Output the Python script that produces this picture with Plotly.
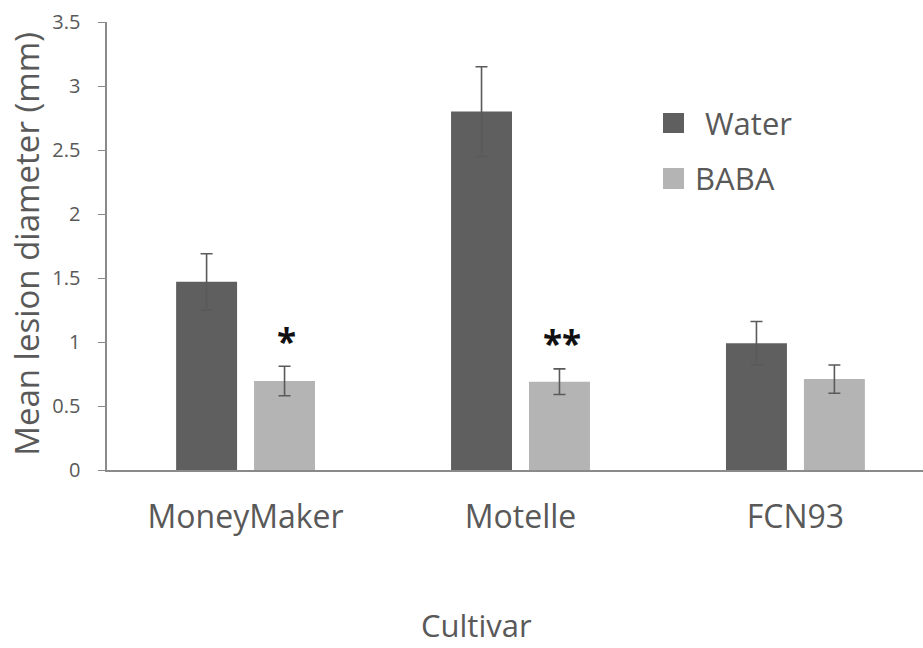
import plotly.graph_objects as go

# Lesion diameter per cultivar, water control vs BABA treatment
cultivars = ["MoneyMaker", "Motelle", "FCN93"]
water_mean = [1.47, 2.80, 0.99]
water_err = [0.22, 0.35, 0.17]
baba_mean = [0.695, 0.69, 0.71]
baba_err = [0.115, 0.10, 0.11]
baba_signif = ["*", "**", ""]

series_names = ["Water", "BABA"]
series_colors = ["#5f5f5f", "#b4b4b4"]

FONT = "Open Sans, sans-serif"
TEXT_GREY = "#595959"
AXIS_GREY = "#8a8a8a"
ERR_GREY = "#5a5a5a"
LABEL_GAP = "\u00a0\u00a0\u2009"  # space between y tick labels and tick marks

fig = go.Figure()
for name, color, means, errs in zip(series_names, series_colors,
                                    [water_mean, baba_mean], [water_err, baba_err]):
    fig.add_trace(go.Bar(
        x=cultivars, y=means, name=name, marker_color=color,
        marker_line_width=0, showlegend=False,
        error_y=dict(type="data", array=errs, visible=True,
                     color=ERR_GREY, thickness=1.6, width=6),
    ))

# significance stars above the BABA bars
for cat, m, e, s in zip(cultivars, baba_mean, baba_err, baba_signif):
    if s:
        fig.add_annotation(x=cat, y=m + e, text="<b>" + s + "</b>", showarrow=False,
                           xshift=41, yshift=26, yanchor="middle",
                           font=dict(family=FONT, size=35, color="#111111"))

# legend: colour swatch + label per series
legend_rows = [(0.7969, 0.7522, 0.7304, 0.7746), (0.6741, 0.6272, 0.7181, 0.6507)]
for (y1, y0, tx, ty), name, color in zip(legend_rows, series_names, series_colors):
    fig.add_shape(type="rect", xref="paper", yref="paper",
                  x0=0.6814, x1=0.7071, y0=y0, y1=y1,
                  fillcolor=color, line_width=0)
    fig.add_annotation(xref="paper", yref="paper", x=tx, y=ty, text=name,
                       showarrow=False, xanchor="left", yanchor="middle",
                       font=dict(family=FONT, size=31, color=TEXT_GREY))

# axis titles
fig.add_annotation(xref="paper", yref="paper", x=0.453, y=-0.3965, text="Cultivar",
                   showarrow=False, xanchor="center", yanchor="bottom",
                   font=dict(family=FONT, size=31, color=TEXT_GREY))
fig.add_annotation(xref="paper", yref="paper", x=-0.098, y=0.505,
                   text="Mean lesion diameter (mm)", textangle=-90,
                   showarrow=False, xanchor="center", yanchor="middle",
                   font=dict(family=FONT, size=33, color=TEXT_GREY))

fig.update_layout(
    width=923, height=648,
    margin=dict(l=107, r=0, t=22, b=178),
    paper_bgcolor="white", plot_bgcolor="white",
    barmode="group", bargap=0.433, bargroupgap=0.218,
    font=dict(family=FONT, color=TEXT_GREY),
    xaxis=dict(range=[-0.504, 2.464], showline=True, linecolor=AXIS_GREY,
               linewidth=1.6, ticks="", showgrid=False, zeroline=False,
               tickfont=dict(size=32, color=TEXT_GREY), ticklabelstandoff=18),
    yaxis=dict(range=[0, 3.5], dtick=0.5, showline=True, linecolor=AXIS_GREY,
               linewidth=1.6, ticks="outside", ticklen=7, tickcolor=AXIS_GREY,
               tickwidth=1.4, showgrid=False, zeroline=False,
               ticksuffix=LABEL_GAP,
               tickfont=dict(size=20, color=TEXT_GREY)),
)

fig.write_html("out.html")
